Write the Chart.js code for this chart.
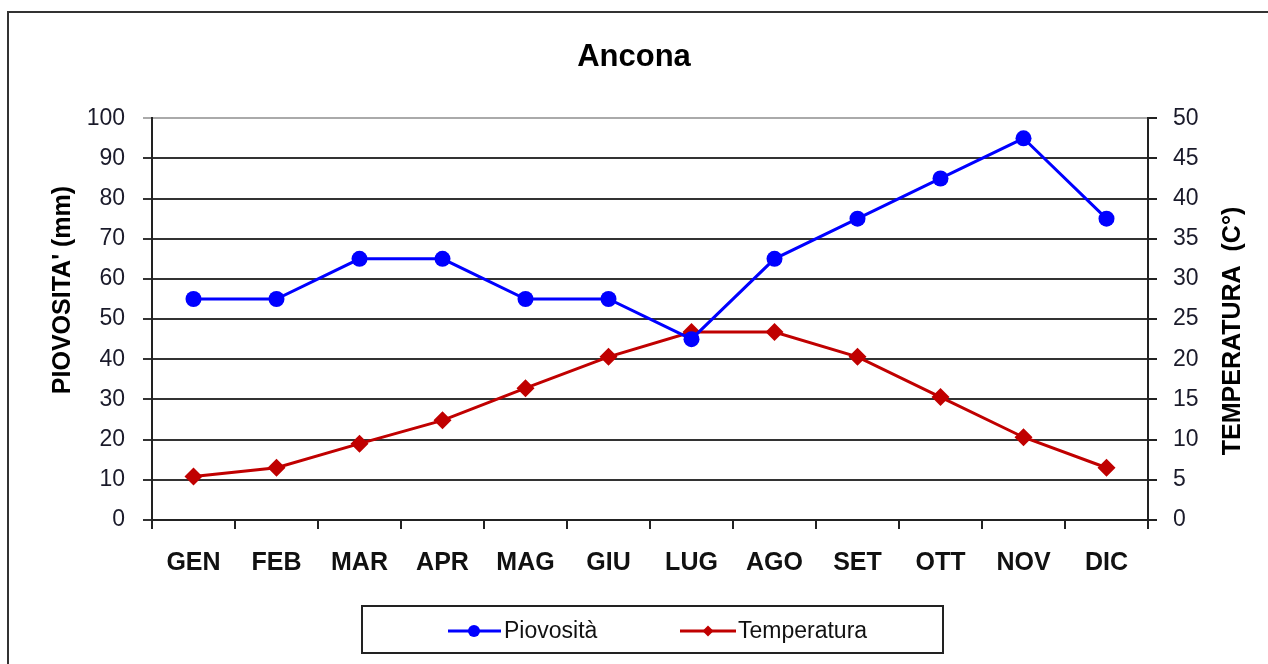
<!DOCTYPE html>
<html>
<head>
<meta charset="utf-8">
<script src="https://cdn.jsdelivr.net/npm/chart.js@4.4.1/dist/chart.umd.min.js"></script>
<style>
  html, body { margin: 0; padding: 0; background: #fff; }
  #wrap { position: relative; width: 1268px; height: 664px; }
</style>
</head>
<body>
<div id="wrap"><canvas id="c" width="1268" height="664"></canvas></div>
<script>
const months = ['GEN','FEB','MAR','APR','MAG','GIU','LUG','AGO','SET','OTT','NOV','DIC'];
const piovosita = [55, 55, 65, 65, 55, 55, 45, 65, 75, 85, 95, 75];
const temperatura = [5.4, 6.5, 9.5, 12.4, 16.4, 20.3, 23.4, 23.4, 20.3, 15.3, 10.3, 6.5];
const chartTitle = 'Ancona';
const leftTitle = "PIOVOSITA' (mm)";
const rightTitle = 'TEMPERATURA  (C°)';
const seriesNames = ['Piovosità', 'Temperatura'];

const FONT = '"Liberation Sans", Arial, sans-serif';
const BLUE = '#0000FF';
const RED = '#C00000';

const decor = {
  id: 'decor',
  beforeDraw(chart) {
    const ctx = chart.ctx;
    ctx.save();
    ctx.strokeStyle = '#333';
    ctx.lineWidth = 2;
    ctx.strokeRect(8, 12, 1400, 800);
    ctx.restore();
  },
  afterDraw(chart) {
    const ctx = chart.ctx;
    ctx.save();
    // axis titles
    ctx.fillStyle = '#000';
    ctx.font = 'bold 25px ' + FONT;
    ctx.textAlign = 'center';
    ctx.textBaseline = 'middle';
    ctx.save();
    ctx.translate(63, 290);
    ctx.rotate(-Math.PI / 2);
    ctx.fillText(leftTitle, 0, 0);
    ctx.restore();
    ctx.save();
    ctx.translate(1233, 331);
    ctx.rotate(-Math.PI / 2);
    ctx.fillText(rightTitle, 0, 0);
    ctx.restore();

    // legend box
    ctx.strokeStyle = '#222';
    ctx.lineWidth = 2;
    ctx.strokeRect(362, 606, 581, 47);
    const ly = 631;
    ctx.lineWidth = 3;
    ctx.strokeStyle = BLUE;
    ctx.beginPath(); ctx.moveTo(448, ly); ctx.lineTo(501, ly); ctx.stroke();
    ctx.fillStyle = BLUE;
    ctx.beginPath(); ctx.arc(474, ly, 6, 0, Math.PI * 2); ctx.fill();
    ctx.strokeStyle = RED;
    ctx.beginPath(); ctx.moveTo(680, ly); ctx.lineTo(736, ly); ctx.stroke();
    ctx.fillStyle = RED;
    ctx.beginPath();
    ctx.moveTo(708, ly - 5.5); ctx.lineTo(713.5, ly); ctx.lineTo(708, ly + 5.5); ctx.lineTo(702.5, ly);
    ctx.closePath(); ctx.fill();
    ctx.fillStyle = '#111';
    ctx.font = '23px ' + FONT;
    ctx.textAlign = 'left';
    ctx.fillText(seriesNames[0], 504, ly + 1);
    ctx.fillText(seriesNames[1], 738, ly + 1);
    ctx.restore();
  }
};

new Chart(document.getElementById('c'), {
  type: 'line',
  data: {
    labels: months,
    datasets: [
      {
        label: seriesNames[0],
        data: piovosita,
        yAxisID: 'y',
        borderColor: BLUE,
        backgroundColor: BLUE,
        borderWidth: 3,
        pointStyle: 'circle',
        pointRadius: 8,
        pointBorderWidth: 0,
        pointBackgroundColor: BLUE,
        tension: 0
      },
      {
        label: seriesNames[1],
        data: temperatura,
        yAxisID: 'y2',
        borderColor: RED,
        backgroundColor: RED,
        borderWidth: 3,
        pointStyle: 'rectRot',
        pointRadius: 9,
        pointBorderWidth: 0,
        pointBackgroundColor: RED,
        tension: 0
      }
    ]
  },
  options: {
    responsive: false,
    animation: false,
    layout: { padding: 0 },
    plugins: {
      legend: { display: false },
      tooltip: { enabled: false },
      title: {
        display: true,
        text: chartTitle,
        color: '#000',
        font: { family: FONT, size: 31, weight: 'bold' },
        padding: { top: 39, bottom: 42 }
      }
    },
    scales: {
      x: {
        type: 'category',
        offset: true,
        grid: {
          offset: true,
          drawOnChartArea: false,
          drawTicks: true,
          tickLength: 9,
          color: '#222',
          lineWidth: 2
        },
        border: { color: '#222', width: 2 },
        ticks: {
          color: '#111',
          font: { family: FONT, size: 25, weight: 'bold' },
          padding: 19,
          maxRotation: 0
        },
        afterFit(s) { s.height = 144; }
      },
      y: {
        position: 'left',
        min: 0,
        max: 100,
        ticks: {
          stepSize: 10,
          color: '#1a1a2a',
          font: { family: FONT, size: 23 },
          padding: 18
        },
        grid: {
          color: (c) => (c.tick && c.tick.value === 100 ? '#aaaaaa' : '#333333'),
          lineWidth: 2,
          tickLength: 9
        },
        border: { color: '#222', width: 2 },
        afterFit(s) { s.width = 152; }
      },
      y2: {
        position: 'right',
        min: 0,
        max: 50,
        ticks: {
          stepSize: 5,
          color: '#1a1a2a',
          font: { family: FONT, size: 23 },
          padding: 16
        },
        grid: {
          drawOnChartArea: false,
          color: '#222',
          lineWidth: 2,
          tickLength: 9
        },
        border: { color: '#222', width: 2 },
        afterFit(s) { s.width = 120; }
      }
    }
  },
  plugins: [decor]
});
</script>
</body>
</html>
